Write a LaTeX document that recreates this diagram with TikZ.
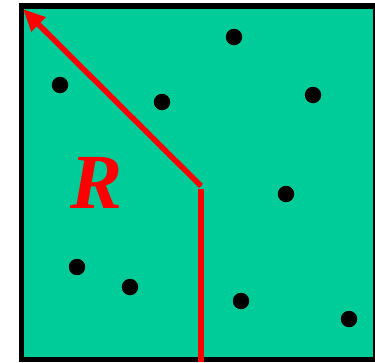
\documentclass[tikz,border=0pt]{standalone}
\usepackage{fontspec}
\setmainfont{Liberation Serif}
\usetikzlibrary{arrows.meta}
\definecolor{field}{HTML}{00CC99}
\begin{document}
\begin{tikzpicture}[x=1pt,y=-1pt,
  dot/.style={circle,fill=black,inner sep=0pt,minimum size=16.5pt},
  ray/.style={red,line width=5.5pt}]
\useasboundingbox(0,0)rectangle(375,362);
\begin{scope}
\clip(0,0)rectangle(375,362);
\draw[line width=5.5pt,fill=field](21.5,6)rectangle(375.5,359.7);
\end{scope}
\foreach \x/\y [count=\i] in {234/37,60/85,162/102,313/95,286/194,77/267,130/287,241/301,349/319}
  \node[dot](d\i)at(\x,\y){};
\coordinate(b)at(201,362);\coordinate(k)at(201,189);
\coordinate(j)at(201,186);\coordinate(t)at(23,9);
\draw[ray](b)--(k);
\draw[ray,-{Triangle[length=22pt,width=19pt]}](j)--(t);
\node[red,font=\fontsize{78}{78}\selectfont\bfseries\itshape](r)at(97,183){R};
\end{tikzpicture}
\end{document}
